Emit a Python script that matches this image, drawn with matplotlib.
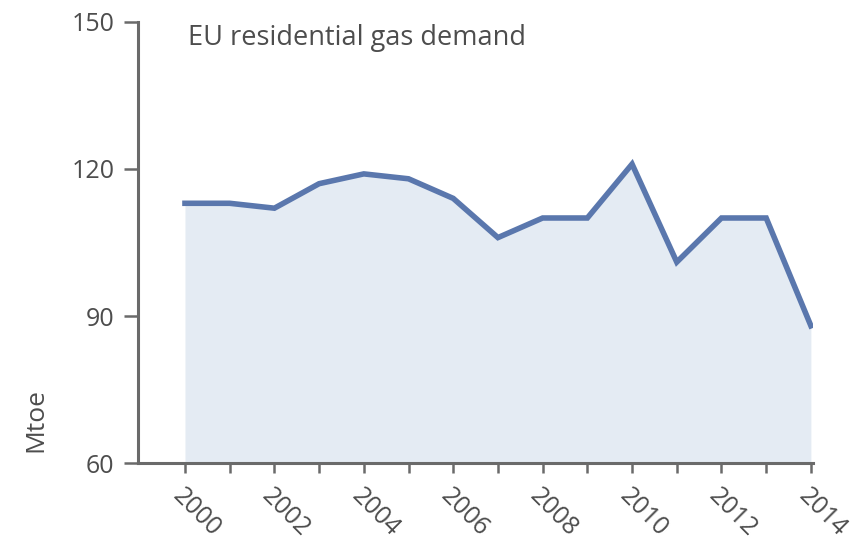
import matplotlib
matplotlib.use("Agg")
import matplotlib.pyplot as plt

years = [2000, 2001, 2002, 2003, 2004, 2005, 2006, 2007,
         2008, 2009, 2010, 2011, 2012, 2013, 2014]
demand = [113, 113, 112, 117, 119, 118, 114, 106,
          110, 110, 121, 101, 110, 110, 88]
y_ticks = [60, 90, 120, 150]
x_labels = [2000, 2002, 2004, 2006, 2008, 2010, 2012, 2014]

plt.rcParams["font.family"] = ["Open Sans", "DejaVu Sans"]
text_col = "#4d4d4d"
axis_col = "#6a6a6a"

fig = plt.figure(figsize=(8.6, 5.59), dpi=100)
ax = fig.add_axes([0.1605, 0.1717, 0.785, 0.789])

ax.fill_between(years, demand, 60, color="#e4ebf3", lw=0)
ax.plot(years, demand, color="#5a77ad", lw=4, solid_joinstyle="miter")

ax.set_xlim(1998.95, 2014.05)
ax.set_ylim(60, 150)
ax.set_yticks(y_ticks)
ax.set_xticks(years, minor=True)
ax.set_xticks(x_labels)
ax.set_xticklabels([str(x) for x in x_labels], rotation=-45,
                   ha="left", va="top", rotation_mode="anchor")

for side in ["top", "right"]:
    ax.spines[side].set_visible(False)
for side in ["left", "bottom"]:
    ax.spines[side].set_color(axis_col)
    ax.spines[side].set_linewidth(2.2)

ax.tick_params(axis="y", length=10, width=1.8, color=axis_col,
               labelsize=18, labelcolor=text_col, pad=7)
ax.tick_params(axis="x", which="both", length=7, width=1.8, color=axis_col,
               labelsize=18, labelcolor=text_col, pad=8)

ax.set_ylabel("Mtoe", fontsize=19, color=text_col)
ax.yaxis.set_label_coords(-0.133, 0.0975)

ax.text(0.074, 0.995, "EU residential gas demand", transform=ax.transAxes,
        fontsize=19.5, color=text_col, ha="left", va="top")

fig.savefig("out.png", dpi=100)
